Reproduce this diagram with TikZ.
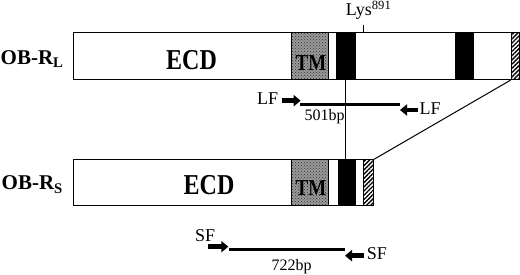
\documentclass[tikz,border=0pt]{standalone}
\usepackage{fontspec}
\usepackage{graphicx}
\setmainfont{Liberation Serif}
\usetikzlibrary{arrows.meta, patterns, patterns.meta, positioning}
\tikzset{
  bar/.style    = {draw, line width=1pt, inner sep=0pt, anchor=north west},
  tmseg/.style  = {bar, preaction={fill=black!40}, pattern=crosshatch dots,
                   pattern color=black!80},
  blkseg/.style = {bar, fill=black},
  hatseg/.style = {bar, pattern={Lines[angle=45,distance=3pt,line width=1.4pt]}},
  isoname/.style = {font=\bfseries\fontsize{21}{23}\selectfont, anchor=base west, inner sep=0pt},
  dom/.style    = {font=\bfseries\fontsize{24}{26}\selectfont, anchor=base, inner sep=0pt},
  tmtxt/.style  = {font=\bfseries\fontsize{19}{21}\selectfont, anchor=base, inner sep=0pt},
  prim/.style   = {font=\fontsize{18}{20}\selectfont, anchor=base west, inner sep=0pt},
  bptxt/.style  = {font=\fontsize{16}{18}\selectfont, anchor=base west, inner sep=0pt},
  prm/.style    = {line width=4.5pt, -{Triangle[length=7pt,width=11pt]}},
  prod/.style   = {line width=3pt},
}
\newcommand{\tall}[1]{\scalebox{1}[1.2]{#1}}
\begin{document}
\begin{tikzpicture}[x=1pt, y=-1pt]
  \useasboundingbox (0,0) rectangle (520,275);
  % long isoform
  \node[bar, minimum width=446pt, minimum height=46.5pt] (rL) at (73,32.3) {};
  \node[tmseg, minimum width=36.7pt, minimum height=46.5pt] (tmL) at (291,32.3) {};
  \node[blkseg, minimum width=18.5pt, minimum height=46.5pt] (b1L) at (336,32.3) {};
  \node[blkseg, minimum width=18pt, minimum height=46.5pt] (b2L) at (455,32.3) {};
  \node[hatseg, minimum width=8.5pt, minimum height=46.5pt] (hL) at (510.5,32.3) {};
  \node[isoname] (nL) at (0.5,64.3) {OB-R\textsubscript{L}};
  \node[dom] (ecdL) at (191.5,69.3) {\tall{ECD}};
  \node[tmtxt] (tmtL) at (311,71) {\tall{TM}};
  \node[anchor=base west, inner sep=0pt, font=\fontsize{18}{20}\selectfont] (lys) at (345.7,16) {Lys\textsuperscript{891}};
  \coordinate (lysT) at (363.3,25);
  \draw[line width=0.8pt] (lysT) -- (lysT |- rL.north);
  % short isoform
  \node[bar, minimum width=300pt, minimum height=46pt] (rS) at (73,159.3) {};
  \node[tmseg, minimum width=36.7pt, minimum height=46pt] (tmS) at (291,159.3) {};
  \node[blkseg, minimum width=17pt, minimum height=46pt] (b1S) at (338.3,159.3) {};
  \node[hatseg, minimum width=9.7pt, minimum height=46pt] (hS) at (363.3,159.3) {};
  \node[isoname] (nS) at (1.5,190) {OB-R\textsubscript{S}};
  \node[dom] (ecdS) at (209,195) {\tall{ECD}};
  \node[tmtxt] (tmtS) at (311,196) {\tall{TM}};
  % splice links
  \coordinate (vx) at (345.7,0);
  \draw[line width=1pt] (b1L.south -| vx) -- (b1S.north -| vx);
  \draw[line width=1pt] (hL.south west) -- (hS.north east);
  % LF primers
  \node[prim] (lf1) at (257,105) {LF};
  \node[prim] (lf2) at (419.3,114.3) {LF};
  \coordinate (lfa) at (281.7,100.7); \coordinate (lfb) at (300.7,100.7);
  \coordinate (lfc) at (418.3,110);   \coordinate (lfd) at (400,110);
  \coordinate (lp1) at (300,105);     \coordinate (lp2) at (399.5,105);
  \draw[prm] (lfa) -- (lfb); \draw[prm] (lfc) -- (lfd);
  \draw[prod] (lp1) -- (lp2);
  \node[bptxt] (bpL) at (304.5,121) {501bp};
  % SF primers
  \node[prim] (sf1) at (195,241.7) {SF};
  \node[prim] (sf2) at (366.7,260) {SF};
  \coordinate (sfa) at (208.3,246.7); \coordinate (sfb) at (228.3,246.7);
  \coordinate (sfc) at (364,255.7);   \coordinate (sfd) at (345,255.7);
  \coordinate (sp1) at (229.3,250);   \coordinate (sp2) at (345,250);
  \draw[prm] (sfa) -- (sfb); \draw[prm] (sfc) -- (sfd);
  \draw[prod] (sp1) -- (sp2);
  \node[bptxt] (bpS) at (271.5,270.5) {722bp};
\end{tikzpicture}
\end{document}
